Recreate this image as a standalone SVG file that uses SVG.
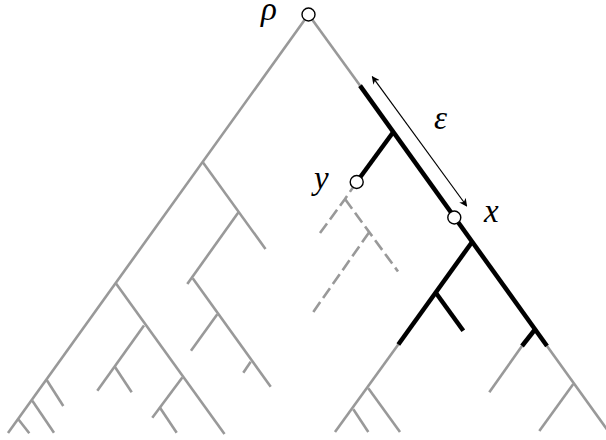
<svg xmlns="http://www.w3.org/2000/svg" width="606" height="440" viewBox="0 0 606 440">
<defs>
<style>
.g{stroke:#999;stroke-width:2.6;fill:none;stroke-linecap:butt}
.d{stroke:#999;stroke-width:2.6;fill:none;stroke-dasharray:12 5}
.b{stroke:#000;stroke-width:4.5;fill:none;stroke-linecap:butt}
.a{stroke:#000;stroke-width:1.2;fill:none}
.n{fill:#fff;stroke:#000;stroke-width:1.4}
</style>
<marker id="ah" viewBox="0 0 10 10" refX="9" refY="5" markerWidth="8" markerHeight="8" markerUnits="userSpaceOnUse" orient="auto-start-reverse">
<path d="M0,0 L10,5 L0,10 L3,5 Z" fill="#000"/>
</marker>
</defs>
<rect width="606" height="440" fill="#fff"/>
<g id="connectors">
<g id="gray-edges">
<line class="g" x1="308.5" y1="14.5" x2="8" y2="433"/>
<line class="g" x1="203" y1="162.5" x2="265.5" y2="249"/>
<line class="g" x1="238.3" y1="212.5" x2="187.3" y2="284"/>
<line class="g" x1="192.7" y1="278.3" x2="270.7" y2="386.7"/>
<line class="g" x1="217.3" y1="314.3" x2="191" y2="350.7"/>
<line class="g" x1="250.7" y1="361.7" x2="243.3" y2="372.7"/>
<line class="g" x1="116" y1="283.5" x2="224.5" y2="434"/>
<line class="g" x1="144" y1="325.5" x2="97.3" y2="390.7"/>
<line class="g" x1="115" y1="367" x2="131.7" y2="392.3"/>
<line class="g" x1="182.3" y1="377.5" x2="152.3" y2="417.7"/>
<line class="g" x1="160" y1="407.7" x2="176.7" y2="432.7"/>
<line class="g" x1="46.7" y1="380" x2="63.3" y2="406"/>
<line class="g" x1="32.3" y1="400.7" x2="54" y2="432.7"/>
<line class="g" x1="18.3" y1="419.3" x2="29.3" y2="433.3"/>
<line class="g" x1="308.5" y1="14.5" x2="360" y2="85.6"/>
<line class="g" x1="547" y1="346" x2="610" y2="433.6"/>
<line class="g" x1="573.3" y1="384" x2="539.3" y2="431"/>
<line class="g" x1="522" y1="346" x2="489.3" y2="392.3"/>
<line class="g" x1="398.3" y1="344.5" x2="335" y2="432"/>
<line class="g" x1="368.3" y1="388.3" x2="400" y2="432"/>
<line class="g" x1="353.3" y1="409.3" x2="368.3" y2="432"/>
</g>
<g id="dashed-edges">
<polyline class="d" points="356.7,182 345,199 320,233"/>
<line class="d" x1="345" y1="199" x2="398" y2="271.5"/>
<line class="d" x1="369" y1="232.5" x2="311.5" y2="314.5"/>
</g>
<g id="black-edges">
<line class="b" x1="360" y1="85.6" x2="547" y2="346"/>
<line class="b" x1="393.3" y1="132" x2="356.7" y2="182"/>
<line class="b" x1="471.7" y1="242.5" x2="398.3" y2="344.5"/>
<line class="b" x1="436" y1="293" x2="463.3" y2="330.7"/>
<line class="b" x1="535" y1="329.5" x2="522" y2="346"/>
</g>
<g id="epsilon-arrow">
<line class="a" x1="372.3" y1="76.7" x2="466.7" y2="206" marker-start="url(#ah)" marker-end="url(#ah)"/>
<text x="434" y="129" font-family="Liberation Serif, serif" font-style="italic" font-size="33">ε</text>
</g>
</g>
<g id="node-rho">
<circle class="n" cx="308.5" cy="14.5" r="6.5"/>
<text x="261" y="20" font-family="Liberation Serif, serif" font-style="italic" font-size="33">ρ</text>
</g>
<g id="node-y">
<circle class="n" cx="356.7" cy="182" r="6.5"/>
<text x="314" y="189" font-family="Liberation Serif, serif" font-style="italic" font-size="33">y</text>
</g>
<g id="node-x">
<circle class="n" cx="454.3" cy="217.5" r="6.5"/>
<text x="484" y="222" font-family="Liberation Serif, serif" font-style="italic" font-size="33">x</text>
</g>
</svg>
